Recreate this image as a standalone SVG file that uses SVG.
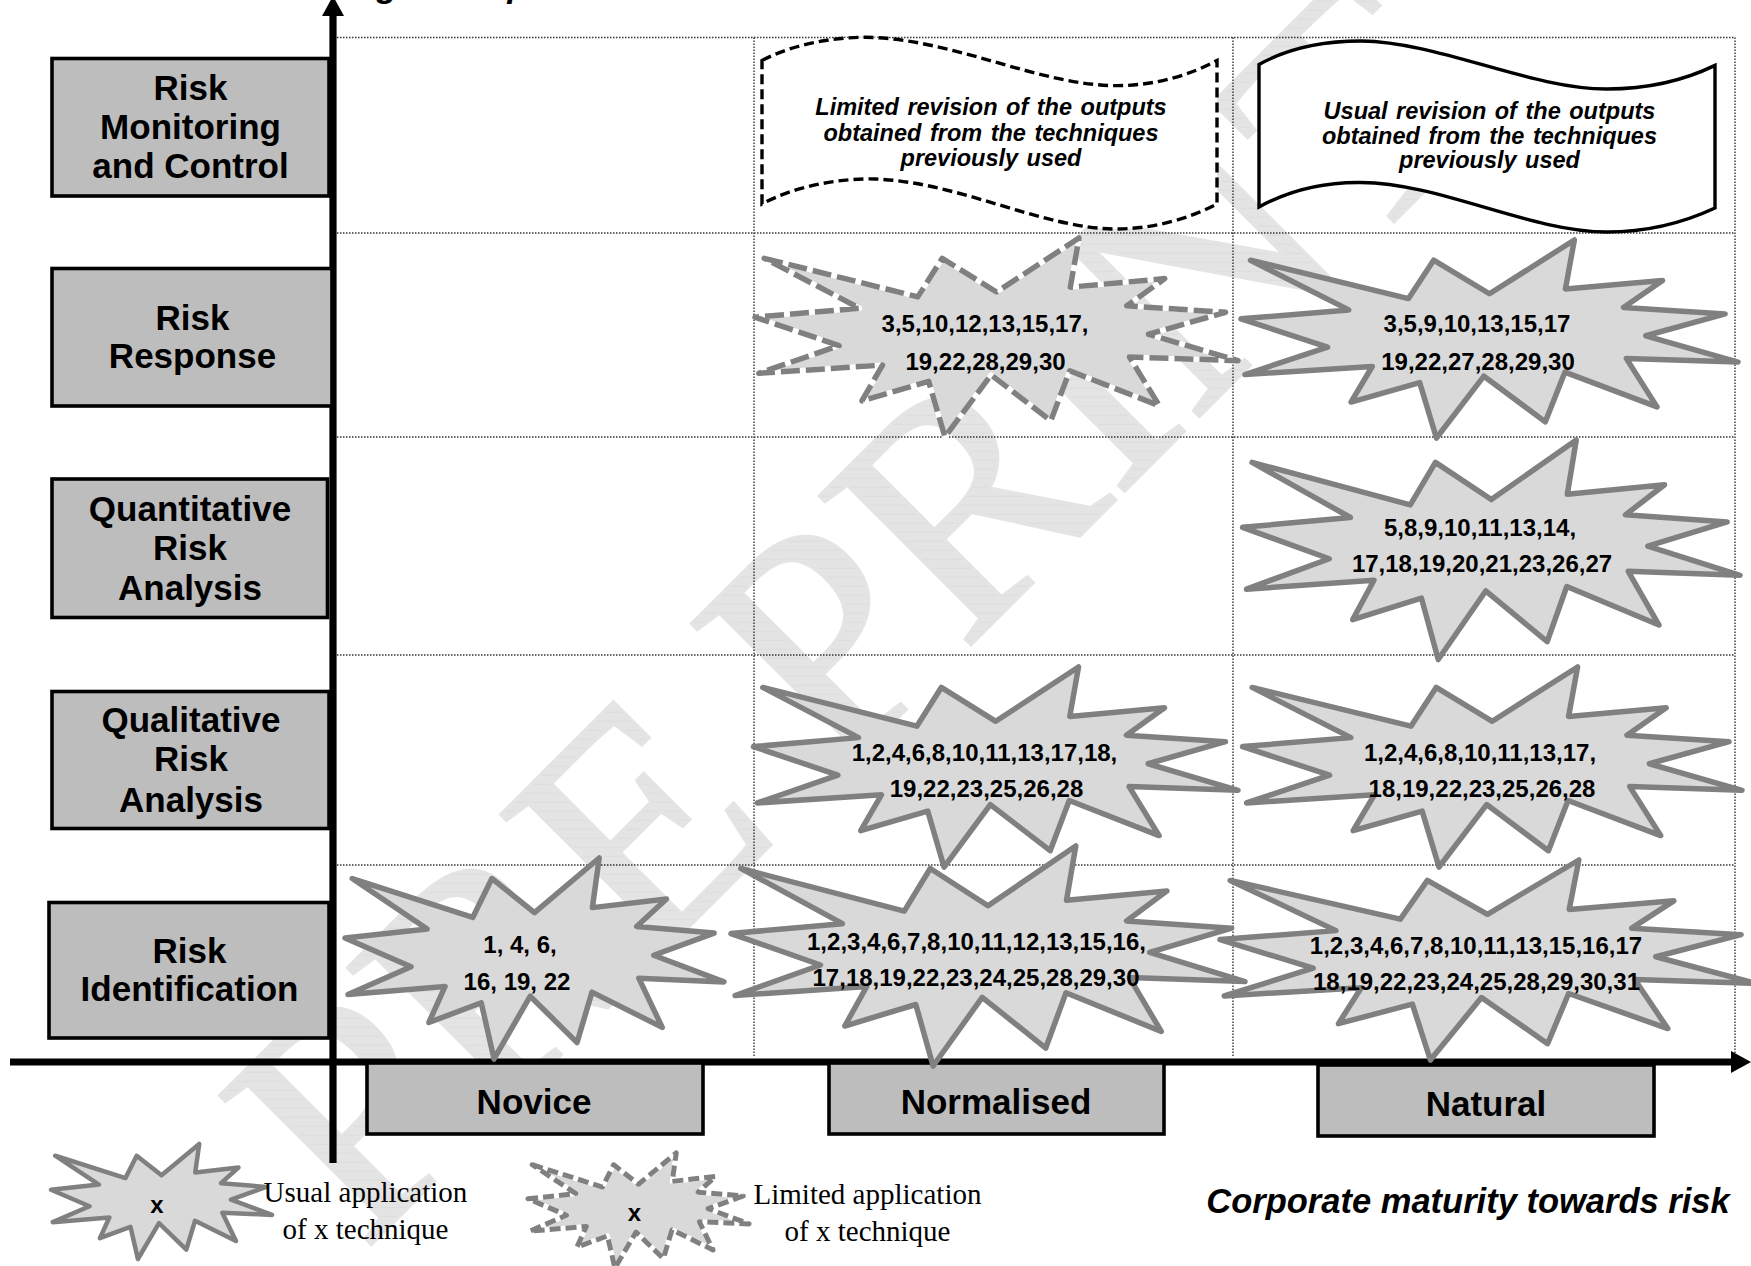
<svg xmlns="http://www.w3.org/2000/svg" xmlns:xlink="http://www.w3.org/1999/xlink" width="1751" height="1266" viewBox="0 0 1751 1266">
<style>
text{font-family:"Liberation Sans",Arial,sans-serif;fill:#000;text-anchor:middle}
.box{fill:#bdbdbd;stroke:#000;stroke-width:3.6}
.lbl{font-size:35px;font-weight:700}
.num{font-size:24px;font-weight:700}
.rev{font-size:23.5px;font-weight:700;font-style:italic;word-spacing:2px}
.ser{font-family:"Liberation Serif","Times New Roman",serif;font-size:29px}
.cap{font-size:34.5px;font-weight:700;font-style:italic}
.grid{stroke:#333;stroke-width:1.4;stroke-dasharray:1.5 1.5;fill:none}
.axis{stroke:#000;stroke-width:7.2;fill:none;marker-end:url(#head)}
.burst{fill:#d9d9d9;stroke:#808080;stroke-width:5.5;stroke-linejoin:round}
.under{fill:#d9d9d9;stroke:#fff;stroke-width:5;stroke-linejoin:round}
.dash{fill:none;stroke:#808080;stroke-width:5.5;stroke-dasharray:19 6;stroke-linejoin:round}
.dash-s{fill:none;stroke:#808080;stroke-width:5;stroke-dasharray:11 5;stroke-linejoin:round}
.flag{fill:#fff;stroke:#000;stroke-width:3.4}
.wm{font-family:"Liberation Serif","Times New Roman",serif;font-size:325px;text-anchor:start;fill:url(#hatch);stroke:#e4e4e4;stroke-width:3;white-space:pre}
</style>
<defs>
<path id="star" vector-effect="non-scaling-stroke" d="M17,50 L300,145 345,50 445,133 597,0 581,121 755,100 685,167 867,183 725,237 890,302 690,293 745,413 580,327 545,450 435,337 350,490 320,353 197,401 235,313 7,333 155,265 0,195 193,173Z"/>
<marker id="head" markerUnits="userSpaceOnUse" markerWidth="22" markerHeight="22" refX="0" refY="11" orient="auto" overflow="visible"><path d="M0,0L20,11L0,22Z" fill="#000"/></marker>
<pattern id="hatch" width="60" height="9" patternUnits="userSpaceOnUse" patternTransform="rotate(45)"><rect width="60" height="9" fill="#e4e4e4"/><rect y="8" width="60" height="1" fill="#dcdcdc"/></pattern>
</defs>
<rect width="1751" height="1266" fill="#fff"/>
<text id="watermark" class="wm" transform="translate(363.3,1252.7) rotate(-45)">PRE <tspan dx="-10">PRINT</tspan></text>
<g id="grid">
<path class="grid" d="M337,37.5H1735M337,233H1735M337,437H1735M337,655H1735M337,865H1735M754,37.5V1057M1233,37.5V1057M1735,37.5V1057"/>
</g>
<g id="connectors">
<line class="axis" x1="333" y1="1163" x2="333" y2="16"/>
<line class="axis" x1="10" y1="1062" x2="1731" y2="1062"/>
</g>
<text class="cap" x="387" y="-3">g</text>
<text class="cap" x="518" y="-3">p</text>
<g id="box-monitoring"><rect class="box" x="52" y="58.5" width="277" height="137.5"/><text class="lbl" x="190.5" y="99.5">Risk</text><text class="lbl" x="190.5" y="139">Monitoring</text><text class="lbl" x="190.5" y="178">and Control</text></g>
<g id="box-response"><rect class="box" x="52" y="268.5" width="280" height="137.5"/><text class="lbl" x="192.5" y="330">Risk</text><text class="lbl" x="192.5" y="368">Response</text></g>
<g id="box-quant"><rect class="box" x="52" y="479" width="275.5" height="138.5"/><text class="lbl" x="190" y="521">Quantitative</text><text class="lbl" x="190" y="560">Risk</text><text class="lbl" x="190" y="599.5">Analysis</text></g>
<g id="box-qual"><rect class="box" x="52" y="691.5" width="277" height="137"/><text class="lbl" x="191" y="732">Qualitative</text><text class="lbl" x="191" y="771">Risk</text><text class="lbl" x="191" y="811.5">Analysis</text></g>
<g id="box-ident"><rect class="box" x="49" y="902.5" width="280" height="135.5"/><text class="lbl" x="189.5" y="963">Risk</text><text class="lbl" x="189.5" y="1001">Identification</text></g>
<g id="box-novice"><rect class="box" x="367" y="1063" width="336" height="71"/><text class="lbl" x="534" y="1113.5">Novice</text></g>
<g id="box-normalised"><rect class="box" x="829" y="1063" width="335" height="71"/><text class="lbl" x="996" y="1114">Normalised</text></g>
<g id="box-natural"><rect class="box" x="1318" y="1065" width="336" height="71"/><text class="lbl" x="1486" y="1115.5">Natural</text></g>
<g id="flag-limited"><path class="flag" stroke-dasharray="10 5" d="M762,60.5C795,43 840,36 875,37.5C960,42 1040,85 1115,85.6C1155,86 1190,75 1217,60.5V204C1190,218 1155,229 1115,229C1040,228 960,182 875,179C840,178 795,186 762,204Z"/><text class="rev" x="991" y="115">Limited revision of the outputs</text><text class="rev" x="991" y="141">obtained from the techniques</text><text class="rev" x="991" y="165.5">previously used</text></g>
<g id="flag-usual"><path class="flag" d="M1259,64.6C1290,47 1325,41 1361,41C1440,42 1530,89 1607,89C1650,89 1685,80 1715,65.4V208C1685,222 1650,232 1607,232C1530,232 1440,183 1361,182.5C1325,182 1290,190 1259,207Z"/><text class="rev" x="1489.5" y="119">Usual revision of the outputs</text><text class="rev" x="1489.5" y="144">obtained from the techniques</text><text class="rev" x="1489.5" y="168">previously used</text></g>
<g id="star-novice-identification"><use href="#star" class="burst" transform="translate(345,858) scale(.4258,.4102)"/><text class="num" x="520" y="953">1, 4, 6,</text><text class="num" x="517" y="989.5">16, 19, 22</text></g>
<g id="star-normalised-response"><use href="#star" class="under" transform="translate(755,238) scale(.5427,.4061)"/><use href="#star" class="dash" transform="translate(755,238) scale(.5427,.4061)"/><text class="num" x="985" y="332">3,5,10,12,13,15,17,</text><text class="num" x="985.5" y="369.5">19,22,28,29,30</text></g>
<g id="star-natural-response"><use href="#star" class="burst" transform="translate(1241,240) scale(.5584,.4041)"/><text class="num" x="1477" y="332">3,5,9,10,13,15,17</text><text class="num" x="1478" y="369.5">19,22,27,28,29,30</text></g>
<g id="star-natural-quant"><use href="#star" class="burst" transform="translate(1242.6,440) scale(.5589,.448)"/><text class="num" x="1480" y="536">5,8,9,10,11,13,14,</text><text class="num" x="1482" y="572">17,18,19,20,21,23,26,27</text></g>
<g id="star-normalised-qual"><use href="#star" class="burst" transform="translate(753.5,667) scale(.5444,.4082)"/><text class="num" x="984.5" y="761">1,2,4,6,8,10,11,13,17,18,</text><text class="num" x="986.5" y="797">19,22,23,25,26,28</text></g>
<g id="star-natural-qual"><use href="#star" class="burst" transform="translate(1242.6,667) scale(.5611,.4082)"/><text class="num" x="1480" y="761">1,2,4,6,8,10,11,13,17,</text><text class="num" x="1482" y="797">18,19,22,23,25,26,28</text></g>
<g id="star-normalised-identification"><use href="#star" class="burst" transform="translate(731,846) scale(.5775,.449)"/><text class="num" x="976.5" y="950">1,2,3,4,6,7,8,10,11,12,13,15,16,</text><text class="num" x="976" y="986">17,18,19,22,23,24,25,28,29,30</text></g>
<g id="star-natural-identification"><use href="#star" class="burst" transform="translate(1220,860) scale(.6011,.4082)"/><text class="num" x="1476" y="954">1,2,3,4,6,7,8,10,11,13,15,16,17</text><text class="num" x="1476.5" y="990">18,19,22,23,24,25,28,29,30,31</text></g>
<g id="legend-usual"><use href="#star" class="burst" style="stroke-width:4.5" transform="translate(51,1144) scale(.2483,.2347)"/><text class="num" x="157" y="1213">x</text><text class="ser" x="365.5" y="1202">Usual application</text><text class="ser" x="365.5" y="1239">of x technique</text></g>
<g id="legend-limited"><use href="#star" class="under" transform="translate(528,1153) scale(.2483,.2347)"/><use href="#star" class="dash-s" transform="translate(528,1153) scale(.2483,.2347)"/><text class="num" x="634.5" y="1221">x</text><text class="ser" x="867.5" y="1204">Limited application</text><text class="ser" x="867.5" y="1241">of x technique</text></g>
<text id="axis-title" class="cap" x="1468" y="1213">Corporate maturity towards risk</text>
</svg>
